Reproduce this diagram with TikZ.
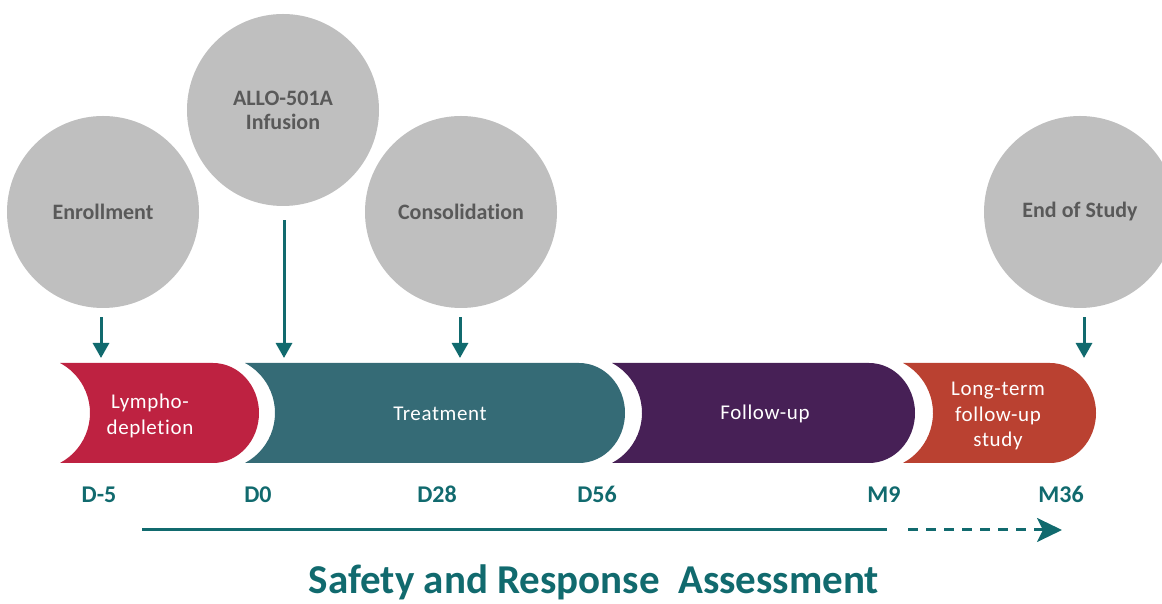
\documentclass[tikz,border=0pt]{standalone}
\usepackage{fontspec}
\setmainfont{Carlito}[Ligatures=NoCommon]
\newfontfamily\barfont{Carlito}[LetterSpace=3,Ligatures=NoCommon]
\usetikzlibrary{arrows.meta}
\definecolor{tealmark}{HTML}{116A6E}
\definecolor{circlegray}{HTML}{BFBFBF}
\definecolor{circletext}{HTML}{595959}
\definecolor{lymred}{HTML}{BE2241}
\definecolor{trtteal}{HTML}{356B76}
\definecolor{fuppurple}{HTML}{472056}
\definecolor{ltforange}{HTML}{BA4131}
\tikzset{
  milestone/.style={circle,fill=circlegray,minimum size=96pt,inner sep=0pt,
    font=\fontsize{11}{12}\selectfont\bfseries\color{circletext},align=center},
  phase_label/.style={font=\barfont\fontsize{10.5}{12.8}\selectfont\color{white},align=center},
  day_label/.style={font=\fontsize{12}{14}\selectfont\bfseries\color{tealmark},anchor=base},
  arr/.style={-{Triangle[width=8pt,length=7.5pt]},draw=tealmark,line width=1.5pt},
  arr_span/.style={-{Stealth[width=12pt,length=12.5pt,inset=3pt]},draw=tealmark,line width=1.5pt},
}

\begin{document}
\begin{tikzpicture}[x=0.5pt,y=0.5pt]
    \useasboundingbox (0,0) rectangle (1162,604);
    \clip (0,0) rectangle (1162,604);
    % phase bars: hollow left end, round right end
    \foreach \l/\s/\c in {60/213/lymred,245/579/trtteal,612/869/fuppurple,903/1050/ltforange}
      \fill[\c] (\l,241) -- (\s,241) arc[start angle=90,end angle=-90,x radius=23pt,y radius=25pt]
        -- (\l,141) arc[start angle=-61.9,end angle=61.9,radius=28.35pt] -- cycle;
    \node[phase_label] (lym) at (150,188) {Lympho-\\depletion};
    \node[phase_label] (trt) at (440,190) {Treatment};
    \node[phase_label] (fup) at (765,190) {Follow-up};
    \node[phase_label] (ltf) at (998,188) {Long-term\\follow-up\\study};
    % milestones
    \node[milestone] (enr) at (103,392) {Enrollment};
    \node[milestone] (inf) at (283,494) {ALLO-501A\\Infusion};
    \node[milestone] (con) at (461,392) {Consolidation};
    \node[milestone] (eos) at (1080,392) {End of Study};
    \coordinate (enr_t) at (101,246);
    \coordinate (inf_t) at (284,246);
    \coordinate (con_t) at (460,246);
    \coordinate (eos_t) at (1084,246);
    \draw[arr,shorten <=4.5pt](enr_t |- enr.south)--(enr_t);
    \draw[arr,shorten <=7pt](inf_t |- inf.south)--(inf_t);
    \draw[arr,shorten <=4.5pt](con_t |- con.south)--(con_t);
    \draw[arr,shorten <=4.5pt](eos_t |- eos.south)--(eos_t);
    % days
    \node[day_label] (d_m5) at (99,101) {D-5};
    \node[day_label] (d_0) at (258,101) {D0};
    \node[day_label] (d_28) at (437,101) {D28};
    \node[day_label] (d_56) at (597,101) {D56};
    \node[day_label] (m_9) at (884,101) {M9};
    \node[day_label] (m_36) at (1061,101) {M36};
    % assessment span
    \coordinate (sa_a) at (142,74);
    \coordinate (sa_b) at (887,74);
    \coordinate (sa_c) at (908,74);
    \coordinate (sa_d) at (1062,74);
    \draw[tealmark,line width=1.5pt](sa_a)--(sa_b);
    \draw[arr_span,dash pattern=on 5pt off 4pt](sa_c)--(sa_d);
    \node[font=\fontsize{20.5}{24}\selectfont\bfseries\color{tealmark},anchor=base] (sra) at (594,10)
      {Safety and Response\ \ Assessment};
\end{tikzpicture}
\end{document}
